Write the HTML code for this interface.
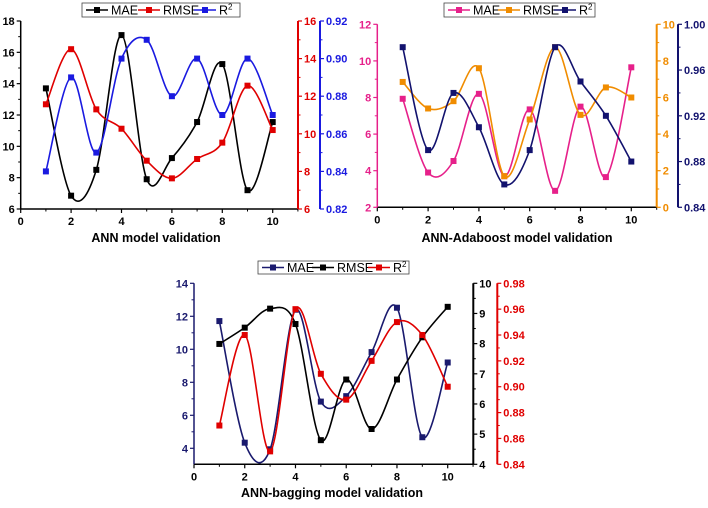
<!DOCTYPE html>
<html><head><meta charset="utf-8">
<style>
html,body{margin:0;padding:0;background:#fff;}
svg text{font-family:"Liberation Sans",Arial,sans-serif;font-weight:bold;}
</style></head>
<body>
<svg id="c" width="708" height="503" viewBox="0 0 708 503" xmlns="http://www.w3.org/2000/svg"></svg>
<script>
const categories = [1,2,3,4,5,6,7,8,9,10];
const xTicks = [0,2,4,6,8,10];
// Panel 1: ANN
const annMAE  = [13.7,6.85,8.5,17.1,7.9,9.25,11.55,15.25,7.2,11.55];
const annRMSE = [11.57,14.5,11.3,10.27,8.57,7.63,8.66,9.53,12.56,10.2];
const annR2   = [0.84,0.89,0.85,0.90,0.91,0.88,0.90,0.87,0.90,0.87];
const annLeftTicks = [6,8,10,12,14,16,18];
const annR1Ticks = [6,8,10,12,14,16];
const annR2Ticks = [0.82,0.84,0.86,0.88,0.90,0.92];
// Panel 2: ANN-Adaboost
const adaMAE  = [7.93,3.9,4.53,8.2,3.7,7.35,2.9,7.5,3.65,9.65];
const adaRMSE = [6.85,5.4,5.8,7.6,1.7,4.8,8.75,5.05,6.55,6.0];
const adaR2   = [0.98,0.89,0.94,0.91,0.86,0.89,0.98,0.95,0.92,0.88];
const adaLeftTicks = [2,4,6,8,10,12];
const adaR1Ticks = [0,2,4,6,8,10];
const adaR2Ticks = [0.84,0.88,0.92,0.96,1.00];
// Panel 3: ANN-bagging
const bagMAE  = [11.71,4.34,3.94,12.4,6.83,7.16,9.83,12.52,4.67,9.2];
const bagRMSE = [7.99,8.53,9.16,8.65,4.8,6.81,5.17,6.81,8.21,9.22];
const bagR2   = [0.87,0.94,0.85,0.96,0.91,0.89,0.92,0.95,0.94,0.90];
const bagLeftTicks = [4,6,8,10,12,14];
const bagR1Ticks = [4,5,6,7,8,9,10];
const bagR2Ticks = [0.84,0.86,0.88,0.90,0.92,0.94,0.96,0.98];

const NS="http://www.w3.org/2000/svg";
const svg=document.getElementById('c');
function el(tag,attrs,parent){const e=document.createElementNS(NS,tag);for(const k in attrs)e.setAttribute(k,attrs[k]);(parent||svg).appendChild(e);return e;}
function txt(s,attrs,parent){const e=el('text',attrs,parent);e.textContent=s;return e;}
function smooth(pts){
  let d=`M${pts[0][0]},${pts[0][1]}`;
  for(let i=0;i<pts.length-1;i++){
    const p0=pts[Math.max(i-1,0)],p1=pts[i],p2=pts[i+1],p3=pts[Math.min(i+2,pts.length-1)];
    const c1=[p1[0]+(p2[0]-p0[0])/6,p1[1]+(p2[1]-p0[1])/6];
    const c2=[p2[0]-(p3[0]-p1[0])/6,p2[1]-(p3[1]-p1[1])/6];
    d+=` C${c1[0]},${c1[1]} ${c2[0]},${c2[1]} ${p2[0]},${p2[1]}`;
  }
  return d;
}
function panel(cfg){
  const g=el('g',{});
  
  
  const xs=v=>cfg.x0+v*cfg.xu;
  const mkY=(lo,hi)=>v=>cfg.yb-(v-lo)/(hi-lo)*(cfg.yb-cfg.yt);
  const axes=cfg.axes.map(a=>({...a,y:mkY(a.lo,a.hi)}));
  const xa=el('g',{},g);
  
  
  el('line',{x1:cfg.x0,y1:cfg.yb,x2:cfg.xr,y2:cfg.yb,stroke:'#000','stroke-width':1.5},xa);
  xTicks.forEach(t=>{
    el('line',{x1:xs(t),y1:cfg.yb,x2:xs(t),y2:cfg.yb+4,stroke:'#000','stroke-width':1.2},xa);
    el('line',{x1:xs(t+1),y1:cfg.yb,x2:xs(t+1),y2:cfg.yb+2.5,stroke:'#000','stroke-width':1},xa);
    const l=txt(String(t),{x:xs(t),y:cfg.yb+16,'font-size':11,'text-anchor':'middle',fill:'#000'},xa);
    
    
  });
  const tt=txt(cfg.title,{x:cfg.tx,y:cfg.ty,'font-size':12.5,'text-anchor':'middle',fill:'#000'},g);
  
  
  axes.forEach((a,ai)=>{
    const ag=el('g',{},g);
    
    
    el('line',{x1:a.ax,y1:cfg.yt,x2:a.ax,y2:cfg.yb,stroke:a.color,'stroke-width':ai==0?1.5:2},ag);
    const dir=ai==0?-1:1;
    a.ticks.forEach((t,ti)=>{
      el('line',{x1:a.ax,y1:a.y(t),x2:a.ax+dir*4,y2:a.y(t),stroke:a.color,'stroke-width':1.2},ag);
      if(ti<a.ticks.length-1){const m=(t+a.ticks[ti+1])/2;el('line',{x1:a.ax,y1:a.y(m),x2:a.ax+dir*2.5,y2:a.y(m),stroke:a.color,'stroke-width':1},ag);}
      const lab=txt(a.fmt(t),{x:a.ax+dir*6,y:a.y(t)+4,'font-size':11,'text-anchor':ai==0?'end':'start',fill:a.color},ag);
      
      
    });
  });
  cfg.series.forEach(s=>{
    const a=axes[s.axis];
    const pts=categories.map((c,i)=>[xs(c),a.y(s.data[i])]);
    const sg=el('g',{},g);
    
    
    el('path',{d:smooth(pts),fill:'none',stroke:s.color,'stroke-width':1.6},sg);
    pts.forEach(p=>{
      const r=el('rect',{x:p[0]-3,y:p[1]-3,width:6,height:6,fill:s.color},sg);
      
      
    });
  });
  const lg=el('g',{},g);
  
  
  el('rect',{x:cfg.lx,y:cfg.ly,width:cfg.lw,height:cfg.lh,fill:'#fff',stroke:'#444','stroke-width':0.8},lg);
  let cx=cfg.lx+4;
  cfg.series.forEach((s,i)=>{
    const e=el('g',{},lg);
    
    
    el('line',{x1:cx,y1:cfg.ly+cfg.lh/2,x2:cx+22,y2:cfg.ly+cfg.lh/2,stroke:s.color,'stroke-width':1.6},e);
    el('rect',{x:cx+8,y:cfg.ly+cfg.lh/2-3,width:6,height:6,fill:s.color},e);
    const t=txt(s.label,{x:cx+25,y:cfg.ly+cfg.lh/2+4.5,'font-size':12.5,style:'font-weight:normal',fill:'#000'},e);
    if(s.label==='R2'){t.textContent='R';const sup=el('tspan',{dy:-5,'font-size':8},t);sup.textContent='2';}
    cx+=cfg.lstep[i];
  });
}
const f0=t=>String(t), f2=t=>t.toFixed(2);
panel({name:'ann-panel',x0:20.7,xu:25.2,xr:298,yt:21,yb:209,title:'ANN model validation',tx:156,ty:242,
  lx:82,ly:3,lw:158,lh:14,lstep:[52,56,50],
  axes:[{axisName:'left-y-axis-mae',lo:6,hi:18,ticks:annLeftTicks,ax:20.7,color:'#000',fmt:f0},
        {axisName:'right-y-axis-rmse',lo:6,hi:16,ticks:annR1Ticks,ax:298,color:'#e00000',fmt:f0},
        {axisName:'right-y-axis-r2',lo:0.82,hi:0.92,ticks:annR2Ticks,ax:320,color:'#1a1ae0',fmt:f2}],
  series:[{sname:'mae-series',label:'MAE',data:annMAE,axis:0,color:'#000'},
          {sname:'rmse-series',label:'RMSE',data:annRMSE,axis:1,color:'#e00000'},
          {sname:'r2-series',label:'R2',data:annR2,axis:2,color:'#1a1ae0'}]});
panel({name:'ann-adaboost-panel',x0:377.3,xu:25.4,xr:656.7,yt:24.3,yb:207.3,title:'ANN-Adaboost model validation',tx:517,ty:242,
  lx:444,ly:3,lw:151,lh:14,lstep:[50,56,50],
  axes:[{axisName:'left-y-axis-mae',lo:2,hi:12,ticks:adaLeftTicks,ax:377.3,color:'#e6208a',fmt:f0},
        {axisName:'right-y-axis-rmse',lo:0,hi:10,ticks:adaR1Ticks,ax:656.7,color:'#f08c00',fmt:f0},
        {axisName:'right-y-axis-r2',lo:0.84,hi:1.00,ticks:adaR2Ticks,ax:678,color:'#12126e',fmt:f2}],
  series:[{sname:'mae-series',label:'MAE',data:adaMAE,axis:0,color:'#e6208a'},
          {sname:'rmse-series',label:'RMSE',data:adaRMSE,axis:1,color:'#f08c00'},
          {sname:'r2-series',label:'R2',data:adaR2,axis:2,color:'#12126e'}]});
panel({name:'ann-bagging-panel',x0:194,xu:25.37,xr:473.3,yt:283.3,yb:464.3,title:'ANN-bagging model validation',tx:332,ty:497,
  lx:258,ly:261,lw:151,lh:13,lstep:[50,56,50],
  axes:[{axisName:'left-y-axis-mae',lo:3.03,hi:14,ticks:bagLeftTicks,ax:194,color:'#1a1a6e',fmt:f0},
        {axisName:'right-y-axis-rmse',lo:4,hi:10,ticks:bagR1Ticks,ax:473.3,color:'#000',fmt:f0},
        {axisName:'right-y-axis-r2',lo:0.84,hi:0.98,ticks:bagR2Ticks,ax:497.3,color:'#e00000',fmt:f2}],
  series:[{sname:'mae-series',label:'MAE',data:bagMAE,axis:0,color:'#1a1a6e'},
          {sname:'rmse-series',label:'RMSE',data:bagRMSE,axis:1,color:'#000'},
          {sname:'r2-series',label:'R2',data:bagR2,axis:2,color:'#e00000'}]});
</script>
</body></html>
